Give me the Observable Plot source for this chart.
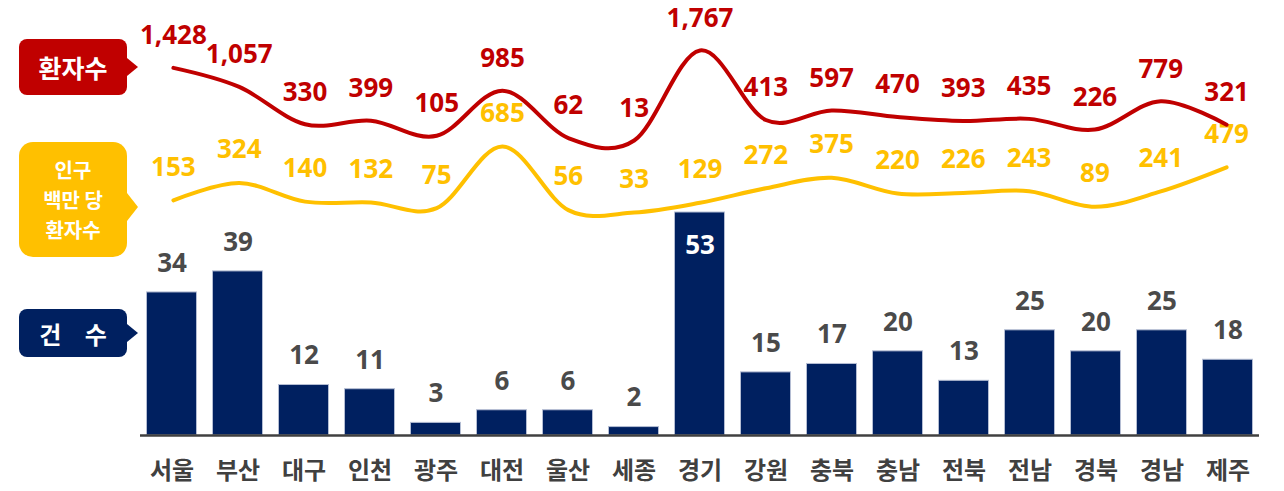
<!DOCTYPE html>
<html>
<head>
<meta charset="utf-8">
<script src="https://cdn.jsdelivr.net/npm/d3@7"></script>
<script src="https://cdn.jsdelivr.net/npm/@observablehq/plot@0.6"></script>
<style>
  html, body { margin: 0; padding: 0; background: #fff; }
  body { font-family: "Noto Sans CJK KR", "Noto Sans", sans-serif; }
  #chart { position: relative; width: 1284px; height: 491px; overflow: hidden; }
  #chart svg { position: absolute; left: 0; top: 0; }
  .badge { position: absolute; left: 19px; width: 108px; color: #fff; font-weight: bold;
           display: flex; align-items: center; justify-content: center; text-align: center; box-sizing: border-box; }
  .badge::after { content: ""; position: absolute; left: 100%; width: 0; height: 0;
           border-top: 9px solid transparent; border-bottom: 9px solid transparent; border-left: 11px solid currentColor; }
  .b-red { top: 39px; height: 56px; background: #C00000; border-radius: 8px; font-size: 25px; }
  .b-red::after { top: 19px; border-left-color: #C00000; }
  .b-yel { top: 142px; height: 115px; background: #FFC000; border-radius: 14px; font-size: 20px; line-height: 30px; }
  .b-yel::after { top: 51px; border-top-width: 14px; border-bottom-width: 14px; border-left-color: #FFC000; }
  .b-navy { top: 309px; height: 48px; background: #002060; border-radius: 8px; font-size: 24px; white-space: pre; word-spacing: 18px; }
  .b-navy::after { top: 15px; border-left-color: #002060; }
</style>
</head>
<body>
<div id="chart">
  <div class="badge b-red">환자수</div>
  <div class="badge b-yel">인구<br>백만 당<br>환자수</div>
  <div class="badge b-navy">건 수</div>
</div>
<script>
const regions = ["서울","부산","대구","인천","광주","대전","울산","세종","경기","강원","충북","충남","전북","전남","경북","경남","제주"];
const patients = [1428,1057,330,399,105,985,62,13,1767,413,597,470,393,435,226,779,321];
const perMillion = [153,324,140,132,75,685,56,33,129,272,375,220,226,243,89,241,479];
const cases = [34,39,12,11,3,6,6,2,53,15,17,20,13,25,20,25,18];

const rows = regions.map((region, i) => ({region, patients: patients[i], perMillion: perMillion[i], cases: cases[i]}));
const maxCases = d3.max(cases);
const fmt = d3.format(",");
const FONT = "'Noto Sans CJK KR', 'Noto Sans', sans-serif";
const NUMFONT = "'Noto Sans', 'Noto Sans CJK KR', sans-serif";

const common = {
  width: 1284, height: 491, marginLeft: 140, marginRight: 25,
  style: {background: "transparent", fontFamily: FONT, overflow: "visible"}
};
const xBase = {domain: regions, paddingInner: 0.2424, paddingOuter: 0.0986, round: false};

const barPlot = Plot.plot({
  ...common,
  marginTop: 212, marginBottom: 56,
  style: {...common.style, fontSize: "24px", fontWeight: "bold", color: "#404040"},
  x: {...xBase, axis: "bottom", tickSize: 0, tickPadding: 26, label: null},
  y: {domain: [0, 53], axis: null},
  marks: [
    Plot.barY(rows, {x: "region", y: "cases", fill: "#002060", stroke: "#b4bdd3", strokeWidth: 1}),
    Plot.ruleY([0], {stroke: "#404040", strokeWidth: 2.5}),
    Plot.text(rows.filter(d => d.cases !== maxCases), {x: "region", y: "cases", text: d => String(d.cases), dy: -29, fill: "#4a4a4a", fontSize: 26, fontWeight: "bold", fontFamily: NUMFONT}),
    Plot.text(rows.filter(d => d.cases === maxCases), {x: "region", y: "cases", text: d => String(d.cases), dy: 33, fill: "#ffffff", fontSize: 26, fontWeight: "bold", fontFamily: NUMFONT})
  ]
});

const yelPlot = Plot.plot({
  ...common,
  marginTop: 146, marginBottom: 275.7,
  x: {...xBase, axis: null},
  y: {domain: [0, 685], axis: null},
  marks: [
    Plot.line(rows, {x: "region", y: "perMillion", stroke: "#FFC000", strokeWidth: 4, curve: "cardinal", tension: 0}),
    Plot.text(rows, {x: "region", y: "perMillion", text: d => fmt(d.perMillion), dy: -33, fill: "#FFC000", fontSize: 26, fontWeight: "bold", fontFamily: NUMFONT})
  ]
});

const redPlot = Plot.plot({
  ...common,
  marginTop: 50, marginBottom: 350.3,
  x: {...xBase, axis: null},
  y: {domain: [0, 1767], axis: null},
  marks: [
    Plot.line(rows, {x: "region", y: "patients", stroke: "#C00000", strokeWidth: 4, curve: "cardinal", tension: 0}),
    Plot.text(rows, {x: "region", y: "patients", text: d => fmt(d.patients), dy: -32, fill: "#C00000", fontSize: 26, fontWeight: "bold", fontFamily: NUMFONT})
  ]
});

const chart = document.getElementById("chart");
const first = chart.firstChild;
chart.insertBefore(barPlot, first);
chart.insertBefore(yelPlot, first);
chart.insertBefore(redPlot, first);
</script>
</body>
</html>
